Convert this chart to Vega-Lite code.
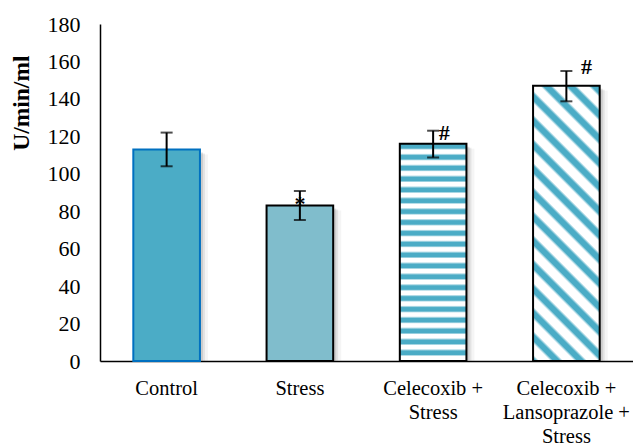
{
  "$schema": "https://vega.github.io/schema/vega-lite/v6.json",
  "width": 533,
  "height": 337,
  "autosize": {"type": "none"},
  "padding": {"left": 100, "top": 24, "right": 0, "bottom": 82},
  "background": "#ffffff",
  "config": {
    "view": {"stroke": null},
    "font": "Liberation Serif",
    "axisY": {
      "labelOverlap": false,
      "tickCount": 10,
      "grid": false,
      "ticks": false,
      "domainColor": "#000000",
      "domainWidth": 1.5,
      "labelFont": "Liberation Serif",
      "labelFontSize": 22,
      "labelColor": "#000000",
      "labelPadding": 20,
      "titleFont": "Liberation Serif",
      "titleFontSize": 23.5,
      "titleFontWeight": "bold",
      "titleColor": "#000000"
    }
  },
  "data": {
    "values": [
      {"group": "Control", "mean": 113, "lo": 104, "hi": 122, "sig": "", "sigY": null},
      {"group": "Stress", "mean": 83, "lo": 75.3, "hi": 90.8, "sig": "*", "sigY": 86},
      {"group": "Celecoxib + Stress", "mean": 116, "lo": 108.7, "hi": 123, "sig": "#", "sigY": 122},
      {"group": "Celecoxib + Lansoprazole + Stress", "mean": 147, "lo": 138.7, "hi": 154.9, "sig": "#", "sigY": 157}
    ]
  },
  "encoding": {
    "x": {
      "field": "group",
      "type": "nominal",
      "sort": null,
      "scale": {"paddingInner": 0.5, "paddingOuter": 0.25},
      "axis": {
        "title": null,
        "domainColor": "#000000",
        "domainWidth": 1.5,
        "ticks": false,
        "labelAngle": 0,
        "labelFont": "Liberation Serif",
        "labelFontSize": 20.5,
        "labelColor": "#000000",
        "labelPadding": 17,
        "labelLineHeight": 24,
        "labelOverlap": false,
        "labelExpr": "datum.value == 'Celecoxib + Stress' ? ['Celecoxib +', 'Stress'] : datum.value == 'Celecoxib + Lansoprazole + Stress' ? ['Celecoxib +', 'Lansoprazole +', 'Stress'] : datum.label"
      }
    }
  },
  "layer": [
    {
      "mark": {"type": "bar", "fill": "#7a7a7a", "opacity": 0.22, "xOffset": 3, "yOffset": 3, "clip": true},
      "encoding": {
        "y": {
          "field": "mean",
          "type": "quantitative",
          "title": "U/min/ml",
          "scale": {"domain": [0, 180], "nice": false},
          "axis": {
            "values": [0, 20, 40, 60, 80, 100, 120, 140, 160, 180],
            "labelOverlap": false,
            "titleX": -79,
            "titleY": 31,
            "titleAlign": "right",
            "titleBaseline": "middle"
          }
        }
      }
    },
    {
      "mark": {"type": "bar", "fill": "#7a7a7a", "opacity": 0.14, "xOffset": 5, "yOffset": 4, "clip": true},
      "encoding": {"y": {"field": "mean", "type": "quantitative"}}
    },
    {
      "mark": {"type": "bar", "fill": "#7a7a7a", "opacity": 0.08, "xOffset": 8, "yOffset": 5, "clip": true},
      "encoding": {"y": {"field": "mean", "type": "quantitative"}}
    },
    {
      "transform": [{"filter": "datum.group == 'Control'"}],
      "mark": {"type": "bar", "fill": "#4BACC6", "stroke": "#0070C0", "strokeWidth": 2},
      "encoding": {"y": {"field": "mean", "type": "quantitative"}}
    },
    {
      "transform": [{"filter": "datum.group == 'Stress'"}],
      "mark": {"type": "bar", "fill": "#80BDCC", "stroke": "#000000", "strokeWidth": 2},
      "encoding": {"y": {"field": "mean", "type": "quantitative"}}
    },
    {
      "transform": [{"filter": "datum.group == 'Celecoxib + Stress'"}],
      "mark": {
        "type": "bar",
        "stroke": "#000000",
        "strokeWidth": 2,
        "fill": {
          "gradient": "linear", "x1": 0, "y1": 0, "x2": 0, "y2": 1,
          "stops": [
            {"offset": 0, "color": "#4BACC6"}, {"offset": 0.02, "color": "#4BACC6"}, {"offset": 0.028, "color": "#ffffff"}, {"offset": 0.044, "color": "#ffffff"},
            {"offset": 0.054, "color": "#4BACC6"}, {"offset": 0.07, "color": "#4BACC6"}, {"offset": 0.078, "color": "#ffffff"}, {"offset": 0.094, "color": "#ffffff"},
            {"offset": 0.104, "color": "#4BACC6"}, {"offset": 0.12, "color": "#4BACC6"}, {"offset": 0.128, "color": "#ffffff"}, {"offset": 0.144, "color": "#ffffff"},
            {"offset": 0.154, "color": "#4BACC6"}, {"offset": 0.17, "color": "#4BACC6"}, {"offset": 0.178, "color": "#ffffff"}, {"offset": 0.194, "color": "#ffffff"},
            {"offset": 0.204, "color": "#4BACC6"}, {"offset": 0.22, "color": "#4BACC6"}, {"offset": 0.228, "color": "#ffffff"}, {"offset": 0.244, "color": "#ffffff"},
            {"offset": 0.254, "color": "#4BACC6"}, {"offset": 0.27, "color": "#4BACC6"}, {"offset": 0.278, "color": "#ffffff"}, {"offset": 0.294, "color": "#ffffff"},
            {"offset": 0.304, "color": "#4BACC6"}, {"offset": 0.32, "color": "#4BACC6"}, {"offset": 0.328, "color": "#ffffff"}, {"offset": 0.344, "color": "#ffffff"},
            {"offset": 0.354, "color": "#4BACC6"}, {"offset": 0.37, "color": "#4BACC6"}, {"offset": 0.378, "color": "#ffffff"}, {"offset": 0.394, "color": "#ffffff"},
            {"offset": 0.404, "color": "#4BACC6"}, {"offset": 0.42, "color": "#4BACC6"}, {"offset": 0.428, "color": "#ffffff"}, {"offset": 0.444, "color": "#ffffff"},
            {"offset": 0.454, "color": "#4BACC6"}, {"offset": 0.47, "color": "#4BACC6"}, {"offset": 0.478, "color": "#ffffff"}, {"offset": 0.494, "color": "#ffffff"},
            {"offset": 0.504, "color": "#4BACC6"}, {"offset": 0.52, "color": "#4BACC6"}, {"offset": 0.528, "color": "#ffffff"}, {"offset": 0.544, "color": "#ffffff"},
            {"offset": 0.554, "color": "#4BACC6"}, {"offset": 0.57, "color": "#4BACC6"}, {"offset": 0.578, "color": "#ffffff"}, {"offset": 0.594, "color": "#ffffff"},
            {"offset": 0.604, "color": "#4BACC6"}, {"offset": 0.62, "color": "#4BACC6"}, {"offset": 0.628, "color": "#ffffff"}, {"offset": 0.644, "color": "#ffffff"},
            {"offset": 0.654, "color": "#4BACC6"}, {"offset": 0.67, "color": "#4BACC6"}, {"offset": 0.678, "color": "#ffffff"}, {"offset": 0.694, "color": "#ffffff"},
            {"offset": 0.704, "color": "#4BACC6"}, {"offset": 0.72, "color": "#4BACC6"}, {"offset": 0.728, "color": "#ffffff"}, {"offset": 0.744, "color": "#ffffff"},
            {"offset": 0.754, "color": "#4BACC6"}, {"offset": 0.77, "color": "#4BACC6"}, {"offset": 0.778, "color": "#ffffff"}, {"offset": 0.794, "color": "#ffffff"},
            {"offset": 0.804, "color": "#4BACC6"}, {"offset": 0.82, "color": "#4BACC6"}, {"offset": 0.828, "color": "#ffffff"}, {"offset": 0.844, "color": "#ffffff"},
            {"offset": 0.854, "color": "#4BACC6"}, {"offset": 0.87, "color": "#4BACC6"}, {"offset": 0.878, "color": "#ffffff"}, {"offset": 0.894, "color": "#ffffff"},
            {"offset": 0.904, "color": "#4BACC6"}, {"offset": 0.92, "color": "#4BACC6"}, {"offset": 0.928, "color": "#ffffff"}, {"offset": 0.944, "color": "#ffffff"},
            {"offset": 0.954, "color": "#4BACC6"}, {"offset": 0.97, "color": "#4BACC6"}, {"offset": 0.978, "color": "#ffffff"}, {"offset": 1, "color": "#ffffff"}
          ]
        }
      },
      "encoding": {"y": {"field": "mean", "type": "quantitative"}}
    },
    {
      "transform": [{"filter": "datum.group == 'Celecoxib + Lansoprazole + Stress'"}],
      "mark": {
        "type": "bar",
        "stroke": "#000000",
        "strokeWidth": 2,
        "fill": {
          "gradient": "linear", "x1": 0, "y1": 1, "x2": 0.284, "y2": -0.1735,
          "stops": [
            {"offset": 0, "color": "#4BACC6"}, {"offset": 0.0095, "color": "#4BACC6"}, {"offset": 0.0195, "color": "#ffffff"}, {"offset": 0.0508, "color": "#ffffff"},
            {"offset": 0.0608, "color": "#4BACC6"}, {"offset": 0.0798, "color": "#4BACC6"}, {"offset": 0.0898, "color": "#ffffff"}, {"offset": 0.1211, "color": "#ffffff"},
            {"offset": 0.1311, "color": "#4BACC6"}, {"offset": 0.1501, "color": "#4BACC6"}, {"offset": 0.1601, "color": "#ffffff"}, {"offset": 0.1914, "color": "#ffffff"},
            {"offset": 0.2014, "color": "#4BACC6"}, {"offset": 0.2204, "color": "#4BACC6"}, {"offset": 0.2304, "color": "#ffffff"}, {"offset": 0.2617, "color": "#ffffff"},
            {"offset": 0.2717, "color": "#4BACC6"}, {"offset": 0.2907, "color": "#4BACC6"}, {"offset": 0.3007, "color": "#ffffff"}, {"offset": 0.332, "color": "#ffffff"},
            {"offset": 0.342, "color": "#4BACC6"}, {"offset": 0.361, "color": "#4BACC6"}, {"offset": 0.371, "color": "#ffffff"}, {"offset": 0.4023, "color": "#ffffff"},
            {"offset": 0.4123, "color": "#4BACC6"}, {"offset": 0.4313, "color": "#4BACC6"}, {"offset": 0.4413, "color": "#ffffff"}, {"offset": 0.4726, "color": "#ffffff"},
            {"offset": 0.4826, "color": "#4BACC6"}, {"offset": 0.5016, "color": "#4BACC6"}, {"offset": 0.5116, "color": "#ffffff"}, {"offset": 0.5429, "color": "#ffffff"},
            {"offset": 0.5529, "color": "#4BACC6"}, {"offset": 0.5719, "color": "#4BACC6"}, {"offset": 0.5819, "color": "#ffffff"}, {"offset": 0.6132, "color": "#ffffff"},
            {"offset": 0.6232, "color": "#4BACC6"}, {"offset": 0.6422, "color": "#4BACC6"}, {"offset": 0.6522, "color": "#ffffff"}, {"offset": 0.6835, "color": "#ffffff"},
            {"offset": 0.6935, "color": "#4BACC6"}, {"offset": 0.7125, "color": "#4BACC6"}, {"offset": 0.7225, "color": "#ffffff"}, {"offset": 0.7538, "color": "#ffffff"},
            {"offset": 0.7638, "color": "#4BACC6"}, {"offset": 0.7828, "color": "#4BACC6"}, {"offset": 0.7928, "color": "#ffffff"}, {"offset": 0.8241, "color": "#ffffff"},
            {"offset": 0.8341, "color": "#4BACC6"}, {"offset": 0.8531, "color": "#4BACC6"}, {"offset": 0.8631, "color": "#ffffff"}, {"offset": 0.8944, "color": "#ffffff"},
            {"offset": 0.9044, "color": "#4BACC6"}, {"offset": 0.9234, "color": "#4BACC6"}, {"offset": 0.9334, "color": "#ffffff"}, {"offset": 0.9647, "color": "#ffffff"},
            {"offset": 0.9747, "color": "#4BACC6"}, {"offset": 1, "color": "#4BACC6"}
          ]
        }
      },
      "encoding": {"y": {"field": "mean", "type": "quantitative"}}
    },
    {
      "mark": {"type": "rule", "color": "#000000", "strokeWidth": 2},
      "encoding": {
        "y": {"field": "lo", "type": "quantitative"},
        "y2": {"field": "hi"}
      }
    },
    {
      "mark": {"type": "tick", "color": "#000000", "size": 12, "thickness": 2, "orient": "horizontal"},
      "encoding": {"y": {"field": "lo", "type": "quantitative"}}
    },
    {
      "mark": {"type": "tick", "color": "#000000", "size": 12, "thickness": 2, "orient": "horizontal"},
      "encoding": {"y": {"field": "hi", "type": "quantitative"}}
    },
    {
      "transform": [{"filter": "datum.group == 'Stress'"}],
      "mark": {"type": "text", "font": "Liberation Serif", "fontSize": 22, "fontWeight": "bold", "color": "#000000", "baseline": "middle", "dy": 4},
      "encoding": {"y": {"field": "sigY", "type": "quantitative"}, "text": {"field": "sig"}}
    },
    {
      "transform": [{"filter": "datum.group == 'Celecoxib + Stress'"}],
      "mark": {"type": "text", "font": "Liberation Serif", "fontSize": 22, "fontWeight": "bold", "color": "#000000", "baseline": "middle", "dx": 11},
      "encoding": {"y": {"field": "sigY", "type": "quantitative"}, "text": {"field": "sig"}}
    },
    {
      "transform": [{"filter": "datum.group == 'Celecoxib + Lansoprazole + Stress'"}],
      "mark": {"type": "text", "font": "Liberation Serif", "fontSize": 22, "fontWeight": "bold", "color": "#000000", "baseline": "middle", "dx": 20},
      "encoding": {"y": {"field": "sigY", "type": "quantitative"}, "text": {"field": "sig"}}
    }
  ]
}
